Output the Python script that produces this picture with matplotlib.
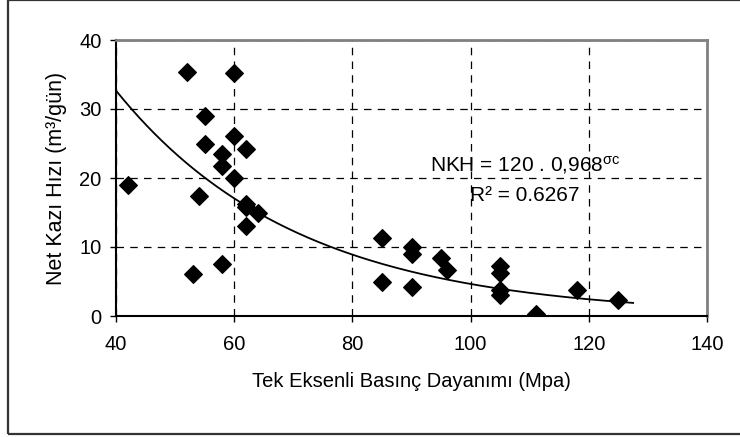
import numpy as np
import matplotlib.pyplot as plt
from matplotlib.patches import Rectangle

plt.rcParams['font.family'] = ['Liberation Sans', 'DejaVu Sans']
plt.rcParams['mathtext.fontset'] = 'custom'
plt.rcParams['mathtext.rm'] = 'Liberation Sans'
plt.rcParams['mathtext.it'] = 'Liberation Sans:italic'

# measured points: uniaxial compressive strength (MPa) vs net cutting rate (m3/day)
ucs = [42, 52, 53, 54, 55, 55, 58, 58, 58, 60, 60, 60, 62, 62, 62, 62, 64,
       85, 85, 90, 90, 90, 95, 96, 105, 105, 105, 105, 111, 118, 125]
nkh = [19.0, 35.4, 6.1, 17.4, 29.0, 24.9, 23.5, 21.7, 7.5, 35.2, 26.1, 20.0,
       24.2, 16.3, 15.8, 13.0, 14.9,
       11.3, 4.9, 10.0, 9.0, 4.2, 8.4, 6.7, 7.2, 6.3, 3.8, 3.1, 0.3, 3.8, 2.3]

# exponential trendline NKH = a * b^sigma_c
fit_a = 120
fit_b = 0.968
fit_range = (40, 127.5)

x_ticks = [40, 60, 80, 100, 120, 140]
y_ticks = [0, 10, 20, 30, 40]

fig = plt.figure(figsize=(7.4, 4.37), dpi=100)
ax = fig.add_axes([116 / 740, 1 - 316 / 437, (707 - 116) / 740, (316 - 40) / 437])

# outer chart frame
fig.patches.append(Rectangle((8 / 740, 1 - 434 / 437), 1.0, 434 / 437 - 0.001,
                             transform=fig.transFigure, fill=False,
                             edgecolor='#333333', linewidth=1.6))

xs = np.linspace(fit_range[0], fit_range[1], 200)
ax.plot(xs, fit_a * fit_b ** xs, color='black', linewidth=1.3, zorder=3)
ax.scatter(ucs, nkh, marker='D', s=80, color='black', zorder=4)

ax.set_xlim(40, 140)
ax.set_ylim(0, 40)
ax.set_xticks(x_ticks)
ax.set_yticks(y_ticks)
ax.tick_params(direction='out', length=4.5, width=1, labelsize=14.5)
ax.tick_params(axis='x', pad=9)
ax.tick_params(axis='y', pad=6)

ax.grid(True, color='black', linestyle=(0, (6, 5)), linewidth=0.9)
ax.set_axisbelow(True)

for side in ['left', 'bottom']:
    ax.spines[side].set_color('black')
    ax.spines[side].set_linewidth(1.5)
for side in ['top', 'right']:
    ax.spines[side].set_color('#808080')
    ax.spines[side].set_linewidth(2)

ax.set_xlabel('Tek Eksenli Basınç Dayanımı (Mpa)', fontsize=14.5, labelpad=13)
ax.set_ylabel('Net Kazı Hızı (m³/gün)', fontsize=15.5, labelpad=9)

ax.text(109.2, 21.9, r'NKH = 120 . 0,968$^{\mathrm{σc}}$', fontsize=15,
        ha='center', va='center')
ax.text(109.2, 17.5, 'R² = 0.6267', fontsize=15, ha='center', va='center')

fig.savefig('out.png', dpi=100)
